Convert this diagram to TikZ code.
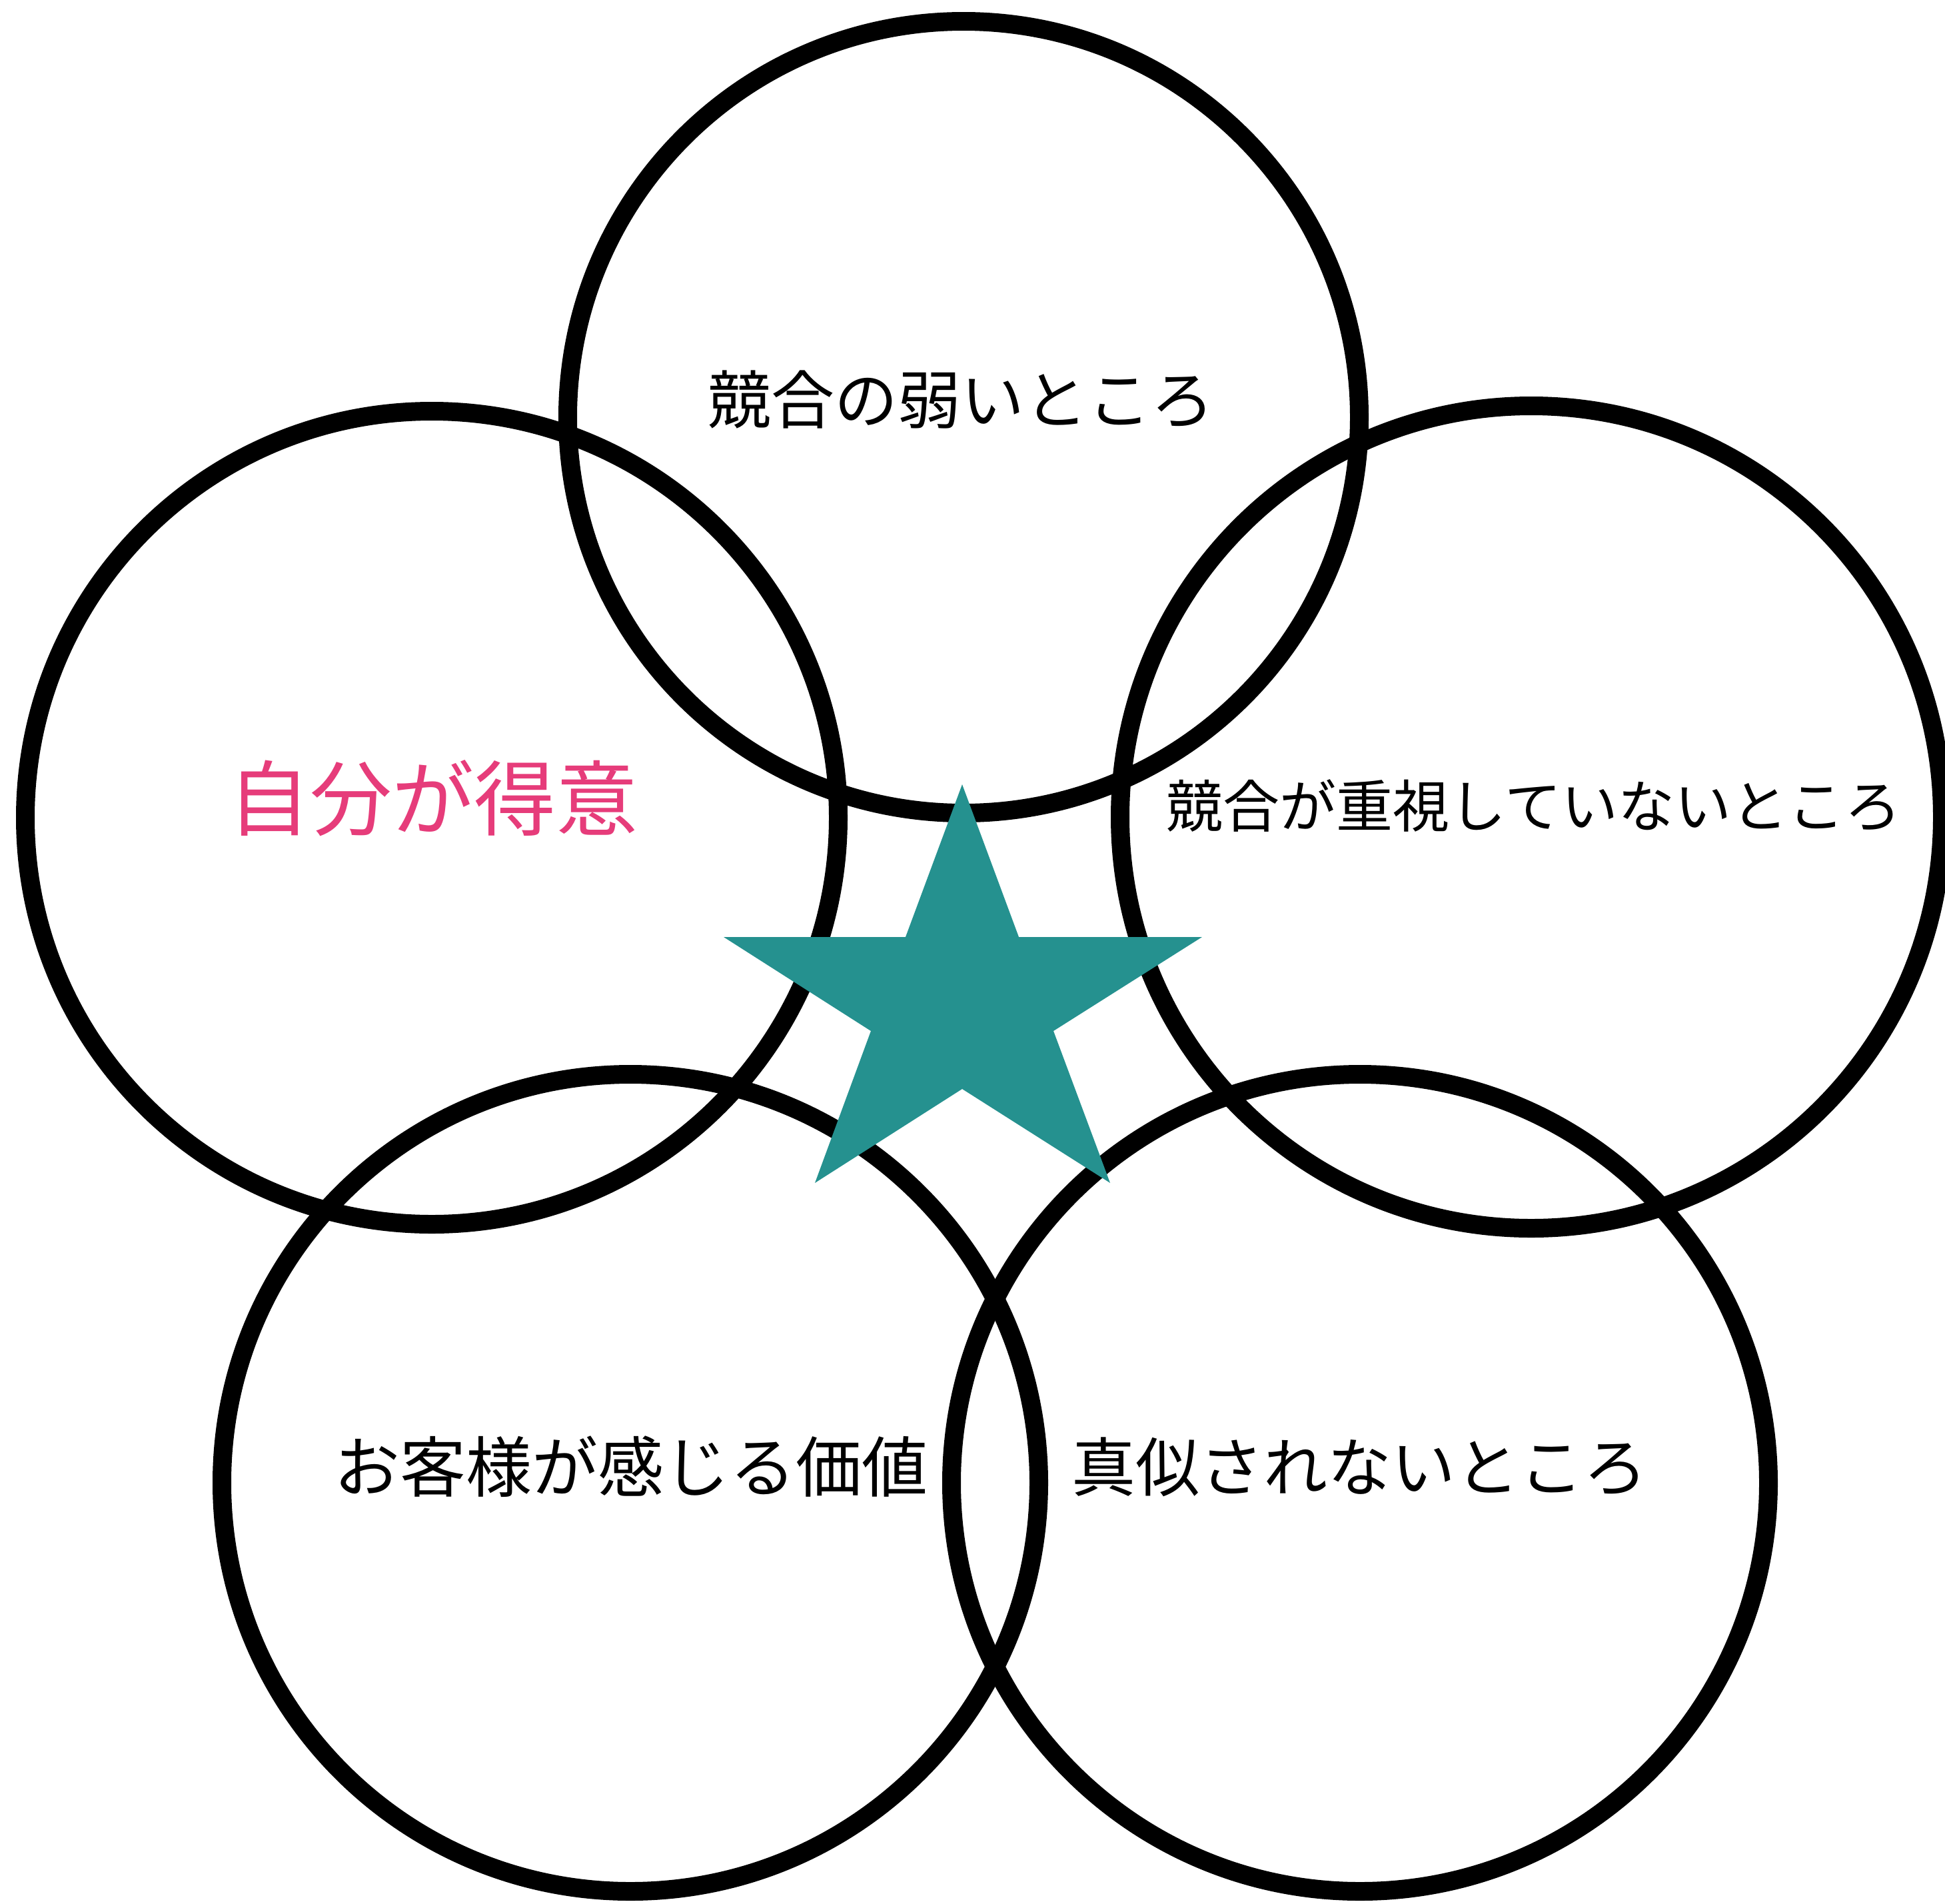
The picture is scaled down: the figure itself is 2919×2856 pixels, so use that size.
\documentclass[tikz,border=0pt]{standalone}
\usepackage{fontspec}
\newfontfamily\jp{Noto Sans CJK JP}
\definecolor{starteal}{RGB}{37,145,143}
\definecolor{labelpink}{RGB}{230,60,122}
\begin{document}
\begin{tikzpicture}[x=1pt,y=-1pt,
  ring/.style={circle, draw=black, line width=28pt, inner sep=0pt},
  lbl/.style={inner sep=0pt, anchor=center, text=black}]
\useasboundingbox (0,0) rectangle (2919,2856);
\clip (0,0) rectangle (2919,2856);
\node[ring, minimum size=1188pt] (top) at (1446,626) {};
\node[ring, minimum size=1220pt] (left) at (648,1227) {};
\node[ring, minimum size=1234pt] (right) at (2298,1226) {};
\node[ring, minimum size=1226pt] (bl) at (946,2225) {};
\node[ring, minimum size=1226pt] (br) at (2041,2225) {};
\fill[starteal] (1444,1177) -- (1529,1406) -- (1804,1406) -- (1581,1547) -- (1666,1775)
  -- (1444,1634) -- (1223,1775) -- (1307,1547) -- (1086,1406) -- (1359,1406) -- cycle;
\node[lbl, font={\jp\fontsize{95}{100}\selectfont}] (t1) at (1442,600) {競合の弱いところ};
\node[lbl, text=labelpink, font={\jp\fontsize{123}{130}\selectfont}] (t2) at (650,1198) {自分が得意};
\node[lbl, font={\jp\fontsize{85}{95}\selectfont}] (t3) at (2302,1209) {競合が重視していないところ};
\node[lbl, font={\jp\fontsize{99}{110}\selectfont}] (t4) at (947,2201) {お客様が感じる価値};
\node[lbl, font={\jp\fontsize{96}{105}\selectfont}] (t5) at (2040,2201) {真似されないところ};
\end{tikzpicture}
\end{document}
